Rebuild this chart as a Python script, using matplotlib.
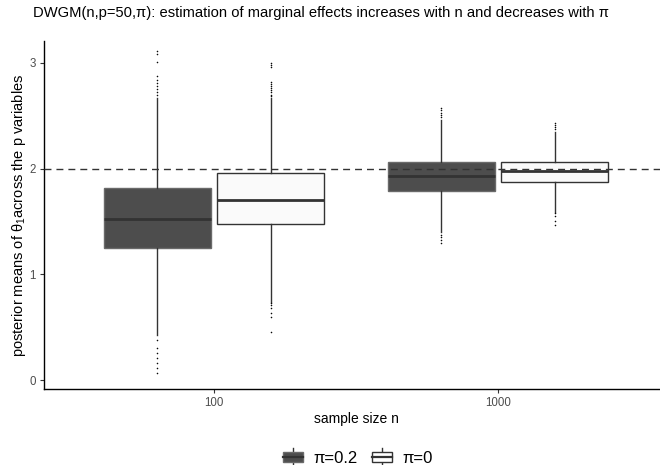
import matplotlib
matplotlib.use('Agg')
import matplotlib.pyplot as plt
from matplotlib.patches import Rectangle
from matplotlib.lines import Line2D
from matplotlib.legend_handler import HandlerBase

plt.rcParams['font.family'] = ['Liberation Sans', 'DejaVu Sans']
plt.rcParams['mathtext.fontset'] = 'custom'
plt.rcParams['mathtext.rm'] = 'Liberation Sans'
plt.rcParams['mathtext.it'] = 'Liberation Sans'

# ---- data ----
sample_sizes = ['100', '1000']
series_labels = ['π=0.2', 'π=0']

# pi = 0.2
pi02_q1 = [1.247, 1.790]
pi02_med = [1.522, 1.932]
pi02_q3 = [1.821, 2.058]
pi02_whislo = [0.426, 1.404]
pi02_whishi = [2.668, 2.462]
pi02_fliers_100 = [3.109, 3.084, 3.009, 2.872, 2.84, 2.81, 2.78, 2.755, 2.727, 2.70,
                   0.379, 0.303, 0.256, 0.208, 0.161, 0.114, 0.066]
pi02_fliers_1000 = [2.573, 2.55, 2.53, 2.51, 2.49, 1.373, 1.35, 1.326, 1.294]

# pi = 0
pi0_q1 = [1.477, 1.875]
pi0_med = [1.702, 1.973]
pi0_q3 = [1.957, 2.061]
pi0_whislo = [0.741, 1.594]
pi0_whishi = [2.668, 2.346]
pi0_fliers_100 = [3.0, 2.98, 2.96, 2.82, 2.80, 2.78, 2.76, 2.74, 2.72, 2.70, 2.69,
                  0.729, 0.71, 0.68, 0.63, 0.60, 0.457]
pi0_fliers_1000 = [2.434, 2.41, 2.39, 2.37, 1.578, 1.547, 1.509, 1.468]

true_value = 2.0

# ---- figure ----
W, H = 660, 465
fig = plt.figure(figsize=(W / 100, H / 100), dpi=100)
ax_left, ax_right, ax_top, ax_bottom = 44, 668, 40.7, 389
ax = fig.add_axes([ax_left / W, 1 - ax_bottom / H,
                   (ax_right - ax_left) / W, (ax_bottom - ax_top) / H])

def make_stats(q1, med, q3, lo, hi, fliers_list):
    out = []
    for i in range(len(q1)):
        out.append(dict(q1=q1[i], med=med[i], q3=q3[i], whislo=lo[i],
                        whishi=hi[i], fliers=fliers_list[i]))
    return out

stats02 = make_stats(pi02_q1, pi02_med, pi02_q3, pi02_whislo, pi02_whishi,
                     [pi02_fliers_100, pi02_fliers_1000])
stats0 = make_stats(pi0_q1, pi0_med, pi0_q3, pi0_whislo, pi0_whishi,
                    [pi0_fliers_100, pi0_fliers_1000])

centers = [1, 2]
dodge = 0.2
bw = 0.377
dark_fill = '#4D4D4D'
light_fill = '#FAFAFA'
line_col = '#333333'

def draw(stats, offs, fill, edge):
    ax.bxp(stats, positions=[c + offs for c in centers], widths=bw,
           patch_artist=True, showcaps=False, manage_ticks=False,
           boxprops=dict(facecolor=fill, edgecolor=edge, linewidth=1.0),
           medianprops=dict(color=line_col, linewidth=2.0),
           whiskerprops=dict(color=line_col, linewidth=1.0),
           flierprops=dict(marker='o', markersize=0.8, markerfacecolor='black',
                           markeredgecolor='black', markeredgewidth=0.3, linestyle='none'))

draw(stats02, -dodge, dark_fill, '#6a6a6a')
draw(stats0, dodge, light_fill, line_col)

ax.axhline(true_value, color=line_col, linewidth=1.0, dashes=(5, 3.6), zorder=5)

ax.set_xlim(0.4, 2.6)
ax.set_ylim(-0.085, 3.21)
ax.set_xticks(centers)
ax.set_xticklabels(sample_sizes)
ax.set_yticks([0, 1, 2, 3])
ax.set_yticklabels(['0', '1', '2', '3'])
for s in ['top', 'right']:
    ax.spines[s].set_visible(False)
for s in ['left', 'bottom']:
    ax.spines[s].set_color('black')
    ax.spines[s].set_linewidth(1.0)
ax.tick_params(axis='both', colors='#333333', length=3, width=0.8,
               labelcolor='#4D4D4D', labelsize=8.3, pad=3)

ax.set_xlabel('sample size n', fontsize=10, color='black', labelpad=2)
ax.set_ylabel(r'posterior means of $\mathregular{θ_1}$across the p variables', fontsize=10.5,
              color='black', labelpad=1)

fig.text(33 / W, 1 - 13 / H,
         'DWGM(n,p=50,π): estimation of marginal effects increases with n and decreases with π',
         fontsize=10.6, ha='left', va='center')

# legend with boxplot-like keys
class BoxKey(HandlerBase):
    def __init__(self, fill, edge):
        super().__init__()
        self.fill = fill
        self.edge = edge

    def create_artists(self, legend, orig_handle, xdescent, ydescent, width, height,
                       fontsize, trans):
        x0, y0 = -xdescent, -ydescent
        rect = Rectangle((x0 + 0.06 * width, y0 + 0.2 * height), 0.88 * width, 0.6 * height,
                         facecolor=self.fill, edgecolor=self.edge, linewidth=1.0,
                         transform=trans)
        med = Line2D([x0 + 0.06 * width, x0 + 0.94 * width], [y0 + 0.5 * height] * 2,
                     color=line_col, linewidth=1.6, transform=trans)
        w1 = Line2D([x0 + 0.5 * width] * 2, [y0 + 0.02 * height, y0 + 0.2 * height],
                    color=line_col, linewidth=1.0, transform=trans)
        w2 = Line2D([x0 + 0.5 * width] * 2, [y0 + 0.8 * height, y0 + 0.98 * height],
                    color=line_col, linewidth=1.0, transform=trans)
        return [w1, w2, rect, med]

h1 = Rectangle((0, 0), 1, 1)
h2 = Rectangle((0, 0), 1, 1)
leg = fig.legend([h1, h2], series_labels, loc='center', bbox_to_anchor=(357 / W, 1 - 457 / H),
                 ncol=2, frameon=False, fontsize=12, handlelength=1.35, handleheight=1.3,
                 handletextpad=0.55, columnspacing=0.8,
                 handler_map={h1: BoxKey(dark_fill, '#6a6a6a'), h2: BoxKey('white', line_col)})

fig.savefig('out.png', dpi=100)
